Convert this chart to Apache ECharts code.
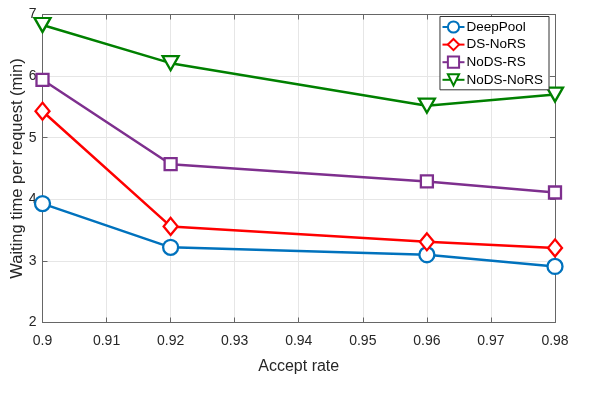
<!DOCTYPE html>
<html>
<head>
<meta charset="utf-8">
<script src="https://cdn.jsdelivr.net/npm/echarts@6/dist/echarts.min.js"></script>
<style>
  html, body { margin: 0; padding: 0; background: #fff; }
  #chart { width: 598px; height: 393px; }
</style>
</head>
<body>
<div id="chart"></div>
<script>
var acceptRate = [0.9, 0.92, 0.96, 0.98];
var deepPool = [3.93, 3.22, 3.10, 2.91];
var dsNoRS = [5.43, 3.56, 3.31, 3.21];
var noDsRS = [5.94, 4.57, 4.29, 4.11];
var noDsNoRS = [6.83, 6.21, 5.52, 5.70];

var FONT = 'Liberation Sans';

function pairs(vals) {
  return acceptRate.map(function (x, i) { return [x, vals[i]]; });
}

function mkSeries(name, vals, color, symbol, size) {
  return {
    name: name,
    type: 'line',
    data: pairs(vals),
    symbol: symbol,
    symbolSize: size,
    showAllSymbol: true,
    lineStyle: { color: color, width: 2.5 },
    itemStyle: { color: '#fff', borderColor: color, borderWidth: 2.3 },
    emphasis: { disabled: true }
  };
}

var chart = echarts.init(document.getElementById('chart'));

var axisLine = { show: true, lineStyle: { color: '#666', width: 1 } };
var axisTick = { show: true, inside: true, length: 5, lineStyle: { color: '#666' } };

chart.setOption({
  animation: false,
  grid: { left: 42.5, right: 43, top: 14.5, bottom: 70.5, show: false, containLabel: false, outerBoundsMode: 'none' },
  legend: {
    right: 49,
    top: 16.5,
    orient: 'vertical',
    itemGap: 3.6,
    itemWidth: 22,
    itemHeight: 14,
    padding: [3.5, 6, 3, 1.5],
    borderColor: '#333',
    borderWidth: 1,
    backgroundColor: '#fff',
    textStyle: { fontFamily: FONT, fontSize: 13.5, lineHeight: 14, color: '#000', padding: [0, 0, 0, -3] },
    data: ['DeepPool', 'DS-NoRS', 'NoDS-RS', 'NoDS-NoRS']
  },
  xAxis: [{
    type: 'value',
    min: 0.9,
    max: 0.98,
    interval: 0.01,
    name: 'Accept rate',
    nameLocation: 'middle',
    nameGap: 36.5,
    nameMoveOverlap: false,
    nameTextStyle: { color: '#262626', fontFamily: FONT, fontSize: 16 },
    axisLine: axisLine,
    axisTick: axisTick,
    axisLabel: {
      color: '#262626', fontFamily: FONT, fontSize: 14, margin: 12,
      formatter: function (v) { return String(+v.toFixed(2)); }
    },
    splitLine: { show: true, lineStyle: { color: '#e6e6e6' } }
  }, {
    type: 'value',
    position: 'top',
    min: 0.9,
    max: 0.98,
    interval: 0.01,
    axisLine: axisLine,
    axisTick: axisTick,
    axisLabel: { show: false },
    splitLine: { show: false }
  }],
  yAxis: [{
    type: 'value',
    min: 2,
    max: 7,
    interval: 1,
    name: 'Waiting time per request (min)',
    nameLocation: 'middle',
    nameGap: 17,
    nameMoveOverlap: false,
    nameTextStyle: { color: '#262626', fontFamily: FONT, fontSize: 16.5 },
    axisLine: axisLine,
    axisTick: axisTick,
    axisLabel: { color: '#262626', fontFamily: FONT, fontSize: 14, margin: 6 },
    splitLine: { show: true, lineStyle: { color: '#e6e6e6' } }
  }, {
    type: 'value',
    position: 'right',
    min: 2,
    max: 7,
    interval: 1,
    axisLine: axisLine,
    axisTick: axisTick,
    axisLabel: { show: false },
    splitLine: { show: false }
  }],
  series: [
    mkSeries('DeepPool', deepPool, '#0072BD', 'circle', 15),
    mkSeries('DS-NoRS', dsNoRS, '#FF0000', 'path://M10,0 L20,12 L10,24 L0,12 Z', [14, 17]),
    mkSeries('NoDS-RS', noDsRS, '#7E2F8E', 'rect', 12),
    mkSeries('NoDS-NoRS', noDsNoRS, '#008000', 'path://M0,0 L20,0 L10,18 Z', [16, 14])
  ]
});
</script>
</body>
</html>
